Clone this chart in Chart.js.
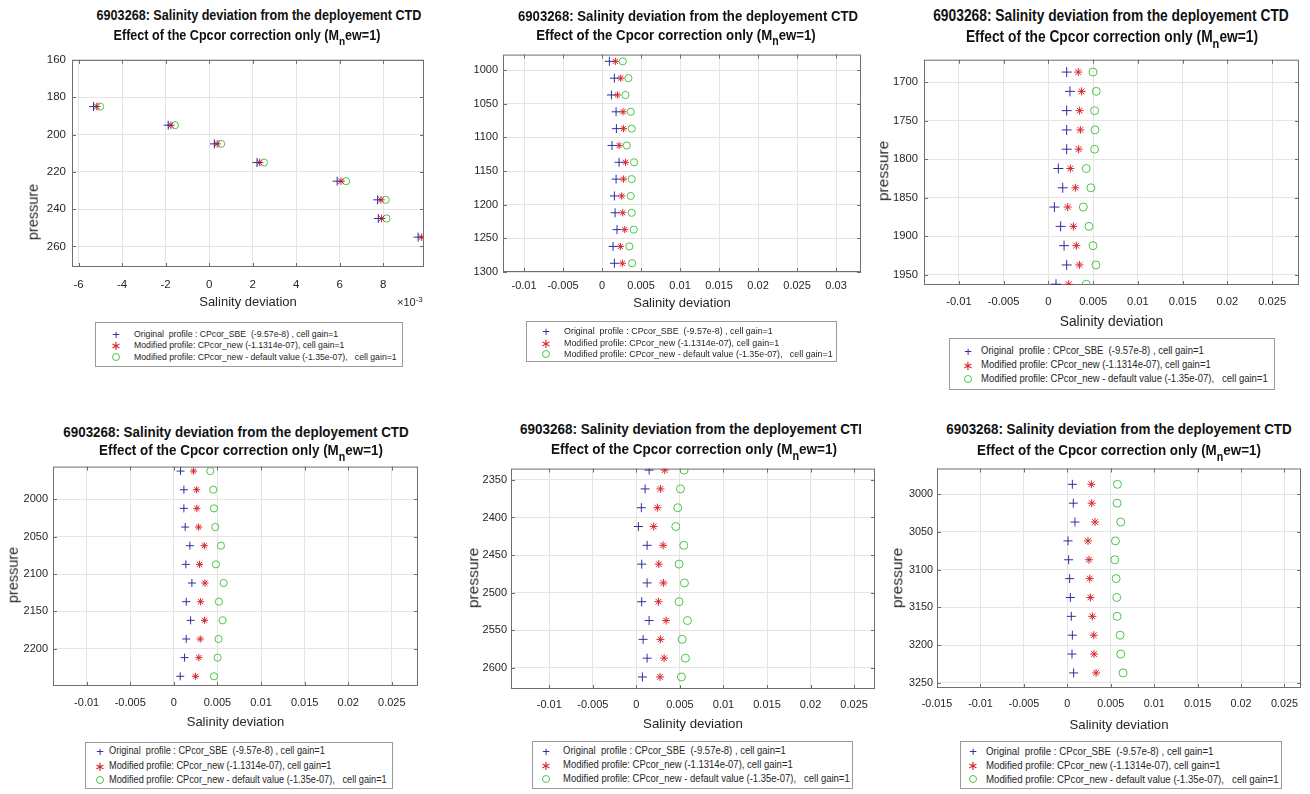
<!DOCTYPE html>
<html lang="en">
<head>
<meta charset="UTF-8">
<title>6903268: Salinity deviation from the deployement CTD</title>
<script src="https://cdn.jsdelivr.net/npm/chart.js"></script>
<style>
  body { margin: 0; background: #fff; font-family: "Liberation Sans", Arial, Helvetica, sans-serif; }
  #page { position: relative; width: 1310px; height: 794px; overflow: hidden; background: #fff; }
  canvas { position: absolute; }
  .ttl { position: absolute; width: 420px; text-align: center; font-weight: bold; color: #111; white-space: nowrap; line-height: 1; }
  .ttl sub { font-size: 80%; vertical-align: -0.45em; line-height: 0; }
  .ylab { position: absolute; transform: translate(-50%, -50%) rotate(-90deg); color: #262626; white-space: nowrap; line-height: 1; }
  .xexp { position: absolute; color: #262626; font-size: 11px; line-height: 1; }
  .xexp sup { font-size: 8px; vertical-align: 0.45em; line-height: 0; }
  .legend { position: absolute; border: 1px solid #9a9a9a; background: #fff; box-sizing: border-box; }
  .legend .txt { position: absolute; white-space: pre; color: #262626; line-height: 1; transform-origin: 0 50%; }
  .legend .mk { position: absolute; transform: translate(-50%, -50%); line-height: 1; }
  .legend .mk.o { width: 6px; height: 6px; border: 1px solid #4cc44c; border-radius: 50%; }
</style>
</head>
<body>
<div id="page"></div>

<script>
// --- data (pressure in dbar, salinity deviation) ---
const legendLabels = [
    'Original  profile : CPcor_SBE  (-9.57e-8) , cell gain=1',
    'Modified profile: CPcor_new (-1.1314e-07), cell gain=1',
    'Modified profile: CPcor_new - default value (-1.35e-07),   cell gain=1'
];

// panel 1
const p1Pres = [185, 195, 205, 215, 225, 235, 245, 255];
const p1Orig = [-0.00531, -0.00188, 0.00024, 0.00220, 0.00588, 0.00774, 0.00777, 0.00960];
const p1New  = [-0.00516, -0.00176, 0.00037, 0.00232, 0.00606, 0.00789, 0.00792, 0.00976];
const p1Def  = [-0.00501, -0.00157, 0.00055, 0.00252, 0.00629, 0.00811, 0.00815, 0.01000];
const p1XTicks = [-0.006, -0.004, -0.002, 0, 0.002, 0.004, 0.006, 0.008];
const p1YTicks = [160, 180, 200, 220, 240, 260];

// panel 2
const p2Pres = [987, 1012, 1037, 1062, 1087, 1112, 1137, 1162, 1187, 1212, 1237, 1262, 1287];
const p2Orig = [0.00094, 0.00158, 0.00120, 0.00180, 0.00184, 0.00128, 0.00218, 0.00180, 0.00158, 0.00167, 0.00192, 0.00141, 0.00158];
const p2New  = [0.00171, 0.00239, 0.00197, 0.00269, 0.00274, 0.00218, 0.00300, 0.00274, 0.00252, 0.00265, 0.00291, 0.00235, 0.00261];
const p2Def  = [0.00265, 0.00338, 0.00300, 0.00368, 0.00380, 0.00316, 0.00410, 0.00380, 0.00368, 0.00380, 0.00406, 0.00350, 0.00385];
const p2XTicks = [-0.01, -0.005, 0, 0.005, 0.01, 0.015, 0.02, 0.025, 0.03];
const p2YTicks = [1000, 1050, 1100, 1150, 1200, 1250, 1300];

// panel 3
const p3Pres = [1687, 1712, 1737, 1762, 1787, 1812, 1837, 1862, 1887, 1912, 1937, 1962];
const p3Orig = [0.00204, 0.00241, 0.00204, 0.00204, 0.00204, 0.00111, 0.00160, 0.00067, 0.00137, 0.00175, 0.00204, 0.00085];
const p3New  = [0.00334, 0.00371, 0.00349, 0.00357, 0.00338, 0.00245, 0.00301, 0.00215, 0.00279, 0.00312, 0.00346, 0.00227];
const p3Def  = [0.00498, 0.00535, 0.00516, 0.00520, 0.00516, 0.00423, 0.00475, 0.00390, 0.00453, 0.00498, 0.00531, 0.00423];
const p3XTicks = [-0.01, -0.005, 0, 0.005, 0.01, 0.015, 0.02, 0.025];
const p3YTicks = [1700, 1750, 1800, 1850, 1900, 1950];

// panel 4
const p4Pres = [1962, 1987, 2012, 2037, 2062, 2087, 2112, 2137, 2162, 2187, 2212, 2237];
const p4Orig = [0.00077, 0.00115, 0.00115, 0.00130, 0.00184, 0.00138, 0.00207, 0.00142, 0.00192, 0.00142, 0.00123, 0.00073];
const p4New  = [0.00226, 0.00261, 0.00264, 0.00284, 0.00349, 0.00295, 0.00356, 0.00307, 0.00352, 0.00303, 0.00287, 0.00249];
const p4Def  = [0.00418, 0.00452, 0.00460, 0.00475, 0.00540, 0.00483, 0.00571, 0.00517, 0.00559, 0.00513, 0.00502, 0.00460];
const p4XTicks = [-0.01, -0.005, 0, 0.005, 0.01, 0.015, 0.02, 0.025];
const p4YTicks = [2000, 2050, 2100, 2150, 2200];

// panel 5
const p5Pres = [2337, 2362, 2387, 2412, 2437, 2462, 2487, 2512, 2537, 2562, 2587, 2612];
const p5Orig = [0.00146, 0.00100, 0.00057, 0.00023, 0.00123, 0.00061, 0.00123, 0.00061, 0.00146, 0.00077, 0.00123, 0.00069];
const p5New  = [0.00326, 0.00276, 0.00241, 0.00199, 0.00307, 0.00257, 0.00310, 0.00253, 0.00341, 0.00276, 0.00318, 0.00272];
const p5Def  = [0.00548, 0.00506, 0.00475, 0.00452, 0.00544, 0.00490, 0.00552, 0.00490, 0.00586, 0.00525, 0.00563, 0.00517];
const p5XTicks = [-0.01, -0.005, 0, 0.005, 0.01, 0.015, 0.02, 0.025];
const p5YTicks = [2350, 2400, 2450, 2500, 2550, 2600];

// panel 6
const p6Pres = [2987, 3012, 3037, 3062, 3087, 3112, 3137, 3162, 3187, 3212, 3237];
const p6Orig = [0.00058, 0.00069, 0.00088, 0.00008, 0.00015, 0.00027, 0.00035, 0.00046, 0.00058, 0.00054, 0.00073];
const p6New  = [0.00277, 0.00281, 0.00319, 0.00238, 0.00250, 0.00258, 0.00265, 0.00288, 0.00304, 0.00308, 0.00331];
const p6Def  = [0.00577, 0.00573, 0.00615, 0.00554, 0.00546, 0.00562, 0.00569, 0.00573, 0.00608, 0.00615, 0.00642];
const p6XTicks = [-0.015, -0.01, -0.005, 0, 0.005, 0.01, 0.015, 0.02, 0.025];
const p6YTicks = [3000, 3050, 3100, 3150, 3200, 3250];

const BLUE = '#2f2fa2', RED = '#d6262b', GREEN = '#4cc44c';
const SQUEEZE = 1.15;   // the source figures are a bit narrower than tall

Chart.defaults.font.family = '"Liberation Sans", Arial, Helvetica, sans-serif';
const page = document.getElementById('page');

// matlab style axes box with inward tick marks
const matlabBox = {
    id: 'matlabBox',
    beforeDatasetsDraw(chart) {
        const { ctx, chartArea: a, scales: { x, y } } = chart;
        ctx.save();
        ctx.strokeStyle = '#6e6e6e';
        ctx.lineWidth = 1;
        ctx.beginPath();
        x.ticks.forEach(t => {
            const px = Math.round(x.getPixelForValue(t.value)) + 0.5;
            ctx.moveTo(px, a.bottom); ctx.lineTo(px, a.bottom - 4);
            ctx.moveTo(px, a.top); ctx.lineTo(px, a.top + 4);
        });
        y.ticks.forEach(t => {
            const py = Math.round(y.getPixelForValue(t.value)) + 0.5;
            ctx.moveTo(a.left, py); ctx.lineTo(a.left + 4, py);
            ctx.moveTo(a.right, py); ctx.lineTo(a.right - 4, py);
        });
        ctx.stroke();
        ctx.strokeRect(a.left + 0.5, a.top + 0.5, a.right - a.left - 1, a.bottom - a.top - 1);
        ctx.restore();
    }
};

function series(pres, xs, style, color, radius) {
    return {
        data: pres.map((p, i) => ({ x: xs[i], y: p })),
        pointStyle: style,
        pointRadius: radius,
        pointHoverRadius: radius,
        borderColor: color,
        backgroundColor: 'rgba(0,0,0,0)',
        pointBorderWidth: 1,
        clip: 0
    };
}

function fmtDec(v) { return String(+v.toFixed(4)); }

function addTitle(p) {
    const lines = ['6903268: Salinity deviation from the deployement CTD',
                   'Effect of the Cpcor correction only (M<sub>n</sub>ew=1)'];
    p.title.forEach((l, i) => {
        const fs = p.titleSize * SQUEEZE;
        const d = document.createElement('div');
        d.className = 'ttl';
        d.style.fontSize = fs + 'px';
        d.style.left = (l[0] - 210) + 'px';
        d.style.top = (l[1] - fs / 2) + 'px';
        d.style.transform = 'scaleX(' + (1 / SQUEEZE) + ')';
        d.innerHTML = lines[i];
        if (i === 0 && p.titleClip) {
            // the fifth panel's title runs off its screenshot
            const cut = (l[0] + 210 - p.titleClip) * SQUEEZE - 210 * (SQUEEZE - 1);
            d.style.clipPath = 'inset(-5px ' + cut + 'px -5px -5px)';
        }
        page.appendChild(d);
    });
}

function addLegend(g) {
    const box = document.createElement('div');
    box.className = 'legend';
    Object.assign(box.style, { left: g.x + 'px', top: g.y + 'px', width: g.w + 'px', height: g.h + 'px' });
    const marks = [['+', BLUE, 13], ['\u2217', RED, 13]];
    legendLabels.forEach((lab, i) => {
        const m = document.createElement('span');
        m.className = 'mk' + (i === 2 ? ' o' : '');
        m.style.left = g.mx + 'px';
        m.style.top = g.rows[i] + 'px';
        if (i < 2) {
            m.textContent = marks[i][0];
            m.style.color = marks[i][1];
            m.style.fontSize = marks[i][2] + 'px';
            if (i === 1) m.style.fontFamily = '"DejaVu Sans", sans-serif';
        }
        box.appendChild(m);
        const t = document.createElement('span');
        t.className = 'txt';
        t.style.left = g.tx + 'px';
        t.style.top = g.rows[i] + 'px';
        t.style.fontSize = (g.fs * 1.1) + 'px';
        t.style.transform = 'translateY(-50%) scaleX(' + (1 / 1.1) + ')';
        t.textContent = lab;
        box.appendChild(t);
    });
    page.appendChild(box);
}

function addYLabel(p) {
    if (!p.yLab) return;
    const d = document.createElement('div');
    d.className = 'ylab';
    d.style.left = p.yLab[0] + 'px';
    d.style.top = p.yLab[1] + 'px';
    d.style.fontSize = p.yLab[2] + 'px';
    d.textContent = 'pressure';
    page.appendChild(d);
}

function panel(p) {
    const [L, T, R, B] = p.box;
    const left = L - 55, top = T - 10, right = R + 25;
    const bottom = Math.round(p.xTitle[0] + p.xTitle[1] * 0.6);
    const cv = document.createElement('canvas');
    cv.width = right - left;
    cv.height = bottom - top;
    cv.style.left = left + 'px';
    cv.style.top = top + 'px';
    page.appendChild(cv);
    const xh = bottom - B;

    new Chart(cv, {
        type: 'scatter',
        data: {
            datasets: [
                series(p.pres, p.orig, 'cross', BLUE, p.r[0]),
                series(p.pres, p.mod, 'star', RED, p.r[1]),
                series(p.pres, p.def, 'circle', GREEN, p.r[2])
            ]
        },
        options: {
            responsive: false,
            animation: false,
            events: [],
            layout: { padding: { top: 10, right: 25, left: 0, bottom: 0 }, autoPadding: false },
            plugins: { legend: { display: false }, tooltip: { enabled: false } },
            scales: {
                x: {
                    type: 'linear', min: p.xr[0], max: p.xr[1],
                    afterBuildTicks: s => { s.ticks = p.xTicks.map(v => ({ value: v })); },
                    afterFit: s => { s.height = xh; },
                    grid: { color: '#e4e4e4', drawTicks: false },
                    border: { display: false },
                    ticks: { padding: p.pad[0], color: '#262626', font: { size: p.tickSize },
                             maxRotation: 0, autoSkip: false, callback: p.xFmt || fmtDec },
                    title: { display: true, text: 'Salinity deviation', color: '#262626',
                             font: { size: p.xTitle[1] }, padding: 0 }
                },
                y: {
                    type: 'linear', reverse: true, min: p.yr[0], max: p.yr[1],
                    afterBuildTicks: s => { s.ticks = p.yTicks.map(v => ({ value: v })); },
                    afterFit: s => { s.width = 55; },
                    grid: { color: '#e4e4e4', drawTicks: false },
                    border: { display: false },
                    ticks: { padding: p.pad[1], color: '#262626', font: { size: p.tickSize },
                             autoSkip: false, callback: v => String(v) }
                }
            }
        },
        plugins: [matlabBox]
    });

    addTitle(p);
    addYLabel(p);
    addLegend(p.legend);
}

panel({
    box: [72, 57, 424, 267], xr: [-0.0063, 0.00987], yr: [160, 271],
    pres: p1Pres, orig: p1Orig, mod: p1New, def: p1Def, xTicks: p1XTicks, yTicks: p1YTicks,
    xFmt: v => String(Math.round(v * 1000)), r: [4.5, 3.8, 3.6], tickSize: 11.5, pad: [11, 6],
    xTitle: [302, 13], title: [[259, 15], [247, 35]], titleSize: 12.6, yLab: [33, 212, 14.5],
    legend: { x: 95, y: 322, w: 308, h: 45, rows: [11, 22.3, 34], mx: 20, tx: 38, fs: 8.7 }
});
panel({
    box: [503, 53, 861, 272], xr: [-0.0127, 0.0332], yr: [977, 1300],
    pres: p2Pres, orig: p2Orig, mod: p2New, def: p2Def, xTicks: p2XTicks, yTicks: p2YTicks,
    r: [4.5, 3.6, 3.6], tickSize: 11, pad: [7, 5],
    xTitle: [303, 13], title: [[688, 16], [676, 35]], titleSize: 13.2, yLab: null,
    legend: { x: 526, y: 321, w: 311, h: 41, rows: [9, 20.7, 32.3], mx: 19, tx: 37, fs: 8.9 }
});
panel({
    box: [924, 57, 1299, 285], xr: [-0.0139, 0.028], yr: [1671, 1963],
    pres: p3Pres, orig: p3Orig, mod: p3New, def: p3Def, xTicks: p3XTicks, yTicks: p3YTicks,
    r: [5, 4, 4], tickSize: 11.2, pad: [10, 6],
    xTitle: [322, 13.8], title: [[1111, 16], [1112, 37]], titleSize: 13.8, yLab: [883, 171, 15.5],
    legend: { x: 949, y: 338, w: 326, h: 52, rows: [12, 26.3, 40.3], mx: 18, tx: 31, fs: 9.5 }
});
panel({
    box: [53, 465, 418, 686], xr: [-0.01386, 0.028], yr: [1956, 2250],
    pres: p4Pres, orig: p4Orig, mod: p4New, def: p4Def, xTicks: p4XTicks, yTicks: p4YTicks,
    r: [4, 3.6, 3.6], tickSize: 11, pad: [10, 5],
    xTitle: [722, 13], title: [[236, 432], [241, 450]], titleSize: 13.4, yLab: [13, 575, 14.5],
    legend: { x: 85, y: 742, w: 308, h: 47, rows: [8.3, 23, 36.6], mx: 14, tx: 23, fs: 9.2 }
});
panel({
    box: [511, 468, 875, 689], xr: [-0.0144, 0.0274], yr: [2335, 2628],
    pres: p5Pres, orig: p5Orig, mod: p5New, def: p5Def, xTicks: p5XTicks, yTicks: p5YTicks,
    r: [4.5, 4, 4], tickSize: 11, pad: [9, 4],
    xTitle: [724, 13.3], title: [[694, 429], [694, 449]], titleSize: 13.5, titleClip: 861,
    yLab: [473, 578, 15.5],
    legend: { x: 532, y: 741, w: 321, h: 48, rows: [9, 23.3, 37.3], mx: 13, tx: 30, fs: 9.5 }
});
panel({
    box: [937, 468, 1301, 688], xr: [-0.015, 0.0269], yr: [2966, 3257],
    pres: p6Pres, orig: p6Orig, mod: p6New, def: p6Def, xTicks: p6XTicks, yTicks: p6YTicks,
    r: [4.5, 4, 4], tickSize: 10.8, pad: [10, 4],
    xTitle: [725, 13.2], title: [[1119, 429], [1119, 450]], titleSize: 13.4, yLab: [897, 578, 15.5],
    legend: { x: 960, y: 741, w: 322, h: 48, rows: [9, 23.3, 37.3], mx: 12, tx: 25, fs: 9.7 }
});

// x10^-3 multiplier of the first panel
const ex = document.createElement('div');
ex.className = 'xexp';
ex.style.left = '397px';
ex.style.top = '297px';
ex.innerHTML = '\u00d710<sup>-3</sup>';
page.appendChild(ex);
</script>
</body>
</html>
